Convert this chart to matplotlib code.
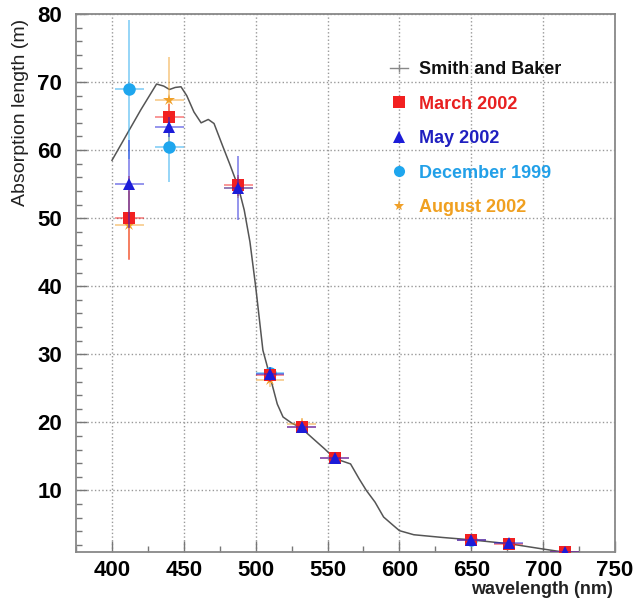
import matplotlib
matplotlib.use("Agg")
import matplotlib.pyplot as plt
from matplotlib.lines import Line2D
from matplotlib.ticker import MultipleLocator

plt.rcParams['font.family'] = ['Liberation Sans', 'DejaVu Sans']

# Smith and Baker reference curve
sb_wl = [400, 410, 420, 431, 436, 440, 444, 448, 452, 457, 462, 467, 471, 477, 482,
         488, 492, 496, 500, 505, 510, 515, 519, 525, 531, 540, 548, 555, 566, 572,
         577, 583, 589, 595, 600, 605, 610, 630, 650, 677, 700, 715]
sb_abs = [58.5, 62.2, 65.9, 69.7, 69.4, 68.9, 69.2, 69.3, 68.0, 65.6, 64.0, 64.5, 63.9,
          60.6, 57.9, 54.5, 51.2, 46.5, 39.9, 30.6, 26.7, 22.7, 20.8, 19.9, 19.3, 17.6,
          16.1, 14.7, 13.9, 11.7, 10.0, 8.3, 6.1, 5.0, 4.1, 3.8, 3.5, 3.1, 2.75, 2.16,
          1.4, 0.93]

# measurements
mar_wl = [412, 440, 488, 510, 532, 555, 650, 676, 715]
mar_abs = [50.0, 64.8, 54.8, 26.9, 19.3, 14.7, 2.8, 2.2, 0.9]
mar_err = [6.2, 2.0, 1.5, 1.0, 0.8, 0.6, 0.3, 0.3, 0.2]

may_wl = [412, 440, 488, 510, 532, 555, 650, 676, 715]
may_abs = [55.0, 63.4, 54.4, 27.1, 19.3, 14.8, 2.8, 2.3, 1.0]
may_err = [6.5, 1.5, 4.7, 1.0, 0.8, 0.6, 0.3, 0.3, 0.2]

dec_wl = [412, 440, 510, 650]
dec_abs = [68.9, 60.4, 27.2, 2.8]
dec_err = [10.2, 5.1, 1.0, 0.3]

aug_wl = [412, 440, 488, 510, 532]
aug_abs = [49.0, 67.4, 54.5, 26.2, 19.8]
aug_err = [5.0, 6.2, 1.5, 1.0, 0.8]

wl_err = 10

fig = plt.figure(figsize=(6.34, 6.05), dpi=100)
ax = fig.add_axes([0.12, 0.088, 0.85, 0.889])

ax.plot(sb_wl, sb_abs, color='#555555', lw=1.1, zorder=2)

series = [
    (aug_wl, aug_abs, aug_err, '*', '#f0a028', 9),
    (dec_wl, dec_abs, dec_err, 'o', '#1ea6ee', 9),
    (mar_wl, mar_abs, mar_err, 's', '#f22020', 9),
    (may_wl, may_abs, may_err, '^', '#1c1cd8', 9),
]
z = 3
for wl, ab, err, mk, col, ms in series:
    ax.errorbar(wl, ab, yerr=err, xerr=wl_err, fmt='none', ecolor=col,
                elinewidth=1.3, alpha=0.5, zorder=z)
    ax.plot(wl, ab, linestyle='none', marker=mk, color=col, markersize=ms,
            markeredgewidth=0, zorder=z + 1)
    z += 2

ax.set_xlim(375, 750)
ax.set_ylim(1, 80)
ax.xaxis.set_major_locator(MultipleLocator(50))
ax.xaxis.set_minor_locator(MultipleLocator(25))
ax.yaxis.set_major_locator(MultipleLocator(10))
ax.yaxis.set_minor_locator(MultipleLocator(2))
ax.set_yticks(range(10, 81, 10))

ax.tick_params(which='both', direction='in', color='#777777', top=False, right=False)
ax.tick_params(which='major', length=8, width=1)
ax.tick_params(which='minor', length=4, width=1)
ax.tick_params(axis='x', pad=6, labelsize=16)
ax.tick_params(axis='y', pad=10, labelsize=16)
for lab in ax.get_xticklabels() + ax.get_yticklabels():
    lab.set_fontweight('bold')

for sp in ax.spines.values():
    sp.set_color('#888888')
    sp.set_linewidth(1.3)

ax.grid(True, which='major', linestyle=':', color='#999999', linewidth=1)

ax.set_ylabel('Absorption length (m)', fontsize=14, loc='top', color='#222222')
ax.yaxis.set_label_coords(-0.087, 0.99)
ax.set_xlabel('wavelength (nm)', fontsize=13, fontweight='bold', loc='right',
              color='#222222')
ax.xaxis.set_label_coords(0.996, -0.054)

handles = [
    Line2D([], [], color='#888888', lw=1, marker='|', markersize=6),
    Line2D([], [], linestyle='none', marker='s', color='#f22020', markersize=8, markeredgewidth=0),
    Line2D([], [], linestyle='none', marker='^', color='#1c1cd8', markersize=8, markeredgewidth=0),
    Line2D([], [], linestyle='none', marker='o', color='#1ea6ee', markersize=8, markeredgewidth=0),
    Line2D([], [], linestyle='none', marker='*', color='#f0a028', markersize=8, markeredgewidth=0),
]
labels = ['Smith and Baker', 'March 2002', 'May 2002', 'December 1999', 'August 2002']
leg = ax.legend(handles, labels, loc='upper left', bbox_to_anchor=(0.566, 0.929),
                frameon=False, borderpad=0, handlelength=1.0, handletextpad=0.6,
                labelspacing=0.97, prop={'size': 13, 'weight': 'bold'},
                labelcolor=['#111111', '#e82020', '#2020c0', '#22a0e8', '#f0a020'])

fig.savefig('out.png', dpi=100)
